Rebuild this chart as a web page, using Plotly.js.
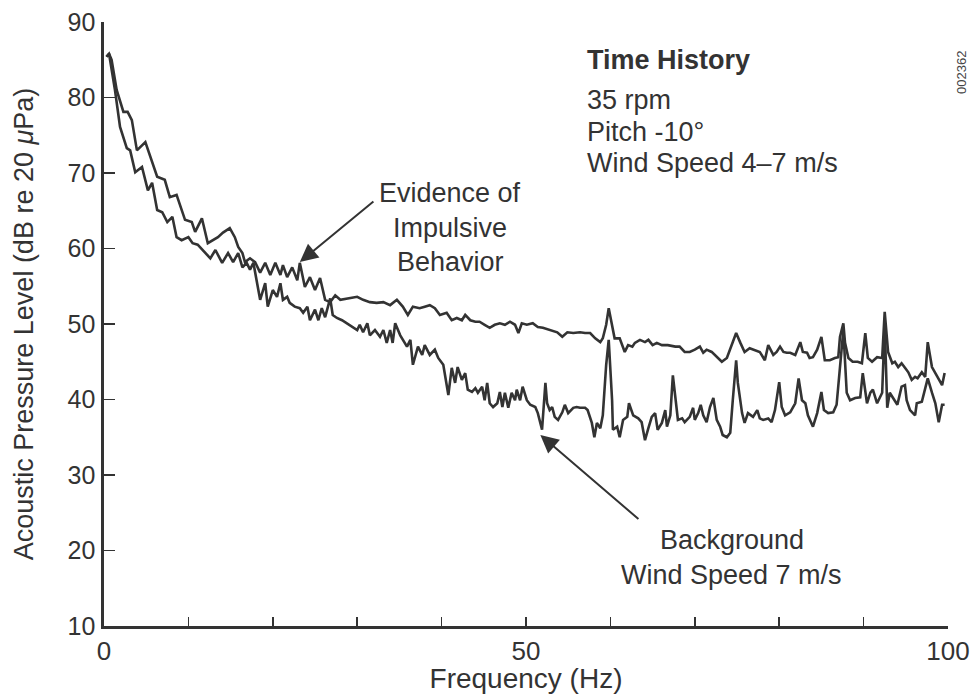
<!DOCTYPE html>
<html>
<head>
<meta charset="utf-8">
<script src="https://cdn.plot.ly/plotly-3.0.1.min.js"></script>
<style>html,body{margin:0;padding:0;background:#fff;}#chart{width:975px;height:694px;}</style>
</head>
<body>
<div id="chart"></div>
<script>
// Time History (upper curve at high frequencies)
const freqTH = [0.3,0.6,0.9,1.5,2.3,2.8,3.3,3.9,4.9,5.5,6.3,7.2,7.8,8.6,9.6,10.4,10.8,11.6,12.3,13.5,14.1,14.9,15.5,15.9,16.4,16.7,17.3,17.9,18.5,19.1,19.7,20.3,20.9,21.2,21.7,22.3,22.9,23.2,23.8,24.4,25.0,25.6,26.2,26.8,27.4,28.0,28.8,30.0,30.7,31.5,32.3,33.1,33.9,34.7,35.4,36.0,36.6,37.4,38.0,38.6,39.2,39.8,40.6,41.2,41.8,42.4,42.8,43.4,44.0,44.5,45.1,45.7,46.3,46.9,47.5,48.1,48.7,49.1,49.5,50.1,50.8,51.4,52.0,52.8,53.7,54.3,54.9,55.6,56.4,57.0,57.6,58.2,58.8,59.1,59.5,59.8,60.2,60.5,61.1,61.7,62.1,62.6,62.9,63.5,64.1,64.5,65.0,65.5,66.1,66.8,67.7,68.2,68.8,69.4,70.0,70.6,71.0,71.4,72.0,72.6,73.2,73.8,74.4,74.9,75.4,75.9,76.5,77.1,77.7,78.3,78.7,79.3,79.7,80.1,80.5,80.9,81.3,81.9,82.5,82.8,83.3,83.6,84.0,84.5,85.0,85.4,86.0,86.6,87.0,87.2,87.6,87.8,88.2,88.7,89.3,89.8,90.2,90.5,91.0,91.6,92.2,92.5,92.9,93.4,93.7,94.1,94.5,94.9,95.3,95.7,96.1,96.4,96.9,97.3,97.6,98.1,98.5,98.8,99.3,99.6];
const splTH = [85.4,85.8,85.0,81.0,78.1,78.1,77.0,73.0,74.1,72.0,69.5,69.1,66.8,67.1,63.8,63.5,62.2,64.0,60.7,61.5,62.1,62.7,61.5,60.2,59.4,58.2,58.7,58.2,56.8,58.1,56.5,58.1,56.5,57.8,56.2,57.5,55.8,58.1,54.9,56.2,54.5,56.1,53.2,52.9,53.8,53.2,53.4,53.6,53.2,52.9,52.8,52.9,52.5,53.2,52.3,51.2,52.3,52.1,52.3,52.5,52.1,51.2,51.5,50.5,50.8,50.5,51.2,50.5,50.3,50.3,49.9,49.5,49.9,50.1,49.9,50.3,49.9,48.8,50.1,49.9,50.1,49.6,49.5,49.2,48.9,48.3,48.9,48.8,48.9,48.8,48.8,48.1,47.6,48.1,49.9,52.1,49.9,48.1,48.1,46.3,47.2,47.0,47.5,47.9,47.6,47.9,47.2,47.5,47.2,47.2,47.0,47.0,46.3,46.3,46.6,47.0,46.2,46.6,46.3,45.6,45.0,45.5,47.2,48.8,47.5,46.3,46.8,46.6,46.3,45.2,47.2,45.9,46.3,47.0,46.3,46.2,46.2,45.9,47.6,46.3,46.2,45.5,45.6,46.6,48.3,45.2,45.2,45.5,45.6,48.3,50.1,47.5,45.5,45.0,45.0,44.8,48.8,45.5,45.0,45.6,45.5,51.6,46.3,44.8,45.0,44.3,44.8,44.2,43.6,42.6,43.0,42.8,43.6,43.0,47.6,44.3,43.5,43.0,41.9,43.5];

// Background, wind speed 7 m/s (lower curve at high frequencies)
const freqBG = [0.3,0.6,1.3,1.9,2.7,3.1,3.7,4.5,5.2,5.7,6.3,6.9,7.5,8.1,8.6,9.2,10.0,10.5,11.1,12.0,12.6,13.2,14.0,14.7,15.3,15.9,16.4,16.9,17.3,17.7,18.5,19.1,19.4,20.0,20.5,20.9,21.2,21.7,22.0,22.6,23.2,23.6,24.1,24.4,25.0,25.4,25.8,26.2,26.8,27.1,27.6,28.2,28.8,29.1,29.5,30.0,30.3,30.7,31.2,31.5,32.1,32.7,33.1,33.5,33.9,34.2,34.5,35.1,35.9,36.3,36.6,37.2,37.7,38.0,38.6,39.2,39.6,40.2,40.8,41.2,41.6,41.9,42.4,42.8,43.1,43.6,44.0,44.3,44.8,45.1,45.4,45.7,46.1,46.6,46.9,47.2,47.5,47.9,48.3,48.7,48.9,49.3,49.6,50.1,50.5,51.1,51.4,51.9,52.3,52.5,52.8,53.1,53.4,53.8,54.3,54.6,55.0,55.6,56.0,56.4,57.0,57.3,57.8,58.1,58.4,58.8,59.1,59.5,59.8,60.2,60.3,60.8,61.1,61.5,62.0,62.2,62.7,63.3,63.7,64.1,64.5,64.9,65.3,65.6,66.1,66.5,66.7,67.1,67.4,67.7,68.0,68.5,68.8,69.4,69.8,70.0,70.4,70.7,71.0,71.4,71.8,72.2,72.6,73.0,73.3,73.8,74.2,74.5,74.9,75.1,75.6,75.9,76.3,76.9,77.4,77.7,78.1,78.7,79.1,79.5,80.0,80.3,80.7,81.3,81.9,82.3,82.7,83.1,83.4,84.0,84.5,85.0,85.3,85.8,86.4,86.8,87.2,87.6,88.0,88.4,89.0,89.6,89.9,90.4,90.8,91.1,91.6,91.9,92.2,92.5,92.8,93.1,93.5,94.0,94.5,94.9,95.1,95.5,96.1,96.3,96.9,97.3,97.6,98.1,98.5,98.9,99.3,99.6];
const splBG = [85.4,85.8,81.0,76.1,73.3,73.0,70.1,70.8,67.7,68.7,65.1,64.8,63.5,64.2,61.5,61.1,61.5,60.7,60.5,59.4,58.7,59.8,58.1,59.4,58.2,59.4,57.5,58.1,57.2,58.1,53.2,55.4,52.3,54.5,53.6,55.4,53.2,53.6,52.8,52.3,52.1,51.5,52.3,50.5,51.9,50.5,52.1,50.9,53.4,51.2,50.8,50.5,50.1,49.9,49.6,49.2,49.9,48.9,50.1,48.5,49.2,48.3,49.2,47.5,49.2,47.5,50.1,48.5,47.0,47.9,44.6,47.0,45.9,47.2,45.9,46.6,45.5,44.6,40.6,44.2,42.2,44.3,42.6,43.5,41.3,41.0,41.5,40.9,41.7,39.9,42.2,39.5,39.0,39.5,41.0,39.0,40.9,38.9,40.9,39.9,41.3,39.9,41.7,39.9,39.3,39.0,38.2,36.0,42.2,39.5,38.6,39.0,37.7,37.3,38.3,39.3,38.2,38.9,39.0,38.9,38.9,38.6,36.9,35.0,36.9,36.2,37.9,44.6,47.9,39.9,36.0,36.4,35.0,37.3,37.7,39.5,37.9,37.5,37.0,34.6,36.2,37.7,38.2,36.0,36.9,38.6,36.4,37.9,43.2,39.9,37.3,37.5,37.0,37.7,38.9,37.3,38.2,39.3,37.9,37.0,39.0,40.2,37.3,36.4,35.3,35.0,35.6,39.9,45.2,42.2,38.2,36.9,38.2,37.7,38.6,37.5,37.3,37.5,37.0,38.6,42.3,39.0,37.9,38.3,39.5,42.8,39.9,39.5,37.9,36.4,38.2,41.0,38.6,38.2,38.3,39.3,43.9,49.2,40.9,39.9,40.2,40.3,43.5,39.5,40.9,41.3,39.5,40.3,40.9,49.9,38.9,40.9,40.2,39.3,41.7,41.9,39.9,38.6,37.9,39.5,39.7,41.5,42.8,40.9,39.5,37.0,39.3,39.3];

// Axis ticks
const xTickVals = [0,10,20,30,40,50,60,70,80,90,100];
const xTickText = ['0','','','','','50','','','','','100'];
const yTickVals = [10,20,30,40,50,60,70,80,90];
const yTickText = ['10','20','30','40','50','60','70','80','90'];

// Texts
const infoLines = ['<b>Time History</b>','35 rpm','Pitch -10°','Wind Speed 4–7 m/s'];
const evidenceLines = ['Evidence of','Impulsive','Behavior'];
const backgroundLines = ['Background','Wind Speed 7 m/s'];

const ink = '#333333';
const fontFam = '"Liberation Sans", Arial, Helvetica, sans-serif';
const txtSize = 27;

const traces = [
  {x: freqTH, y: splTH, mode: 'lines', name: 'Time History', line: {color: ink, width: 2.6}, hoverinfo: 'skip'},
  {x: freqBG, y: splBG, mode: 'lines', name: 'Background', line: {color: ink, width: 2.6}, hoverinfo: 'skip'}
];

const ann = [];
const infoY = [85.0, 79.7, 75.4, 71.3];
infoLines.forEach((t, i) => ann.push({x: 57.0, y: infoY[i], xref: 'x', yref: 'y', text: t, showarrow: false, xanchor: 'left', yanchor: 'middle', font: {size: txtSize, color: ink, family: fontFam}}));
const evY = [67.35, 62.7, 58.2];
evidenceLines.forEach((t, i) => ann.push({x: 41.0, y: evY[i], xref: 'x', yref: 'y', text: t, showarrow: false, xanchor: 'center', yanchor: 'middle', font: {size: txtSize, color: ink, family: fontFam}}));
const bgY = [21.4, 16.75];
backgroundLines.forEach((t, i) => ann.push({x: 74.4, y: bgY[i], xref: 'x', yref: 'y', text: t, showarrow: false, xanchor: 'center', yanchor: 'middle', font: {size: txtSize, color: ink, family: fontFam}}));
// Arrows
ann.push({x: 23.2, y: 58.2, xref: 'x', yref: 'y', ax: 32.1, ay: 66.4, axref: 'x', ayref: 'y', text: '', showarrow: true, arrowhead: 2, arrowsize: 1.8, arrowwidth: 2, arrowcolor: ink, standoff: 0});
ann.push({x: 51.7, y: 35.3, xref: 'x', yref: 'y', ax: 63.5, ay: 24.0, axref: 'x', ayref: 'y', text: '', showarrow: true, arrowhead: 2, arrowsize: 1.8, arrowwidth: 2, arrowcolor: ink, standoff: 0});
// Figure id
ann.push({x: 1.027, y: 0.955, xref: 'paper', yref: 'paper', text: '002362', textangle: -90, showarrow: false, font: {size: 13, color: '#444', family: fontFam}});

const layout = {
  width: 975, height: 694,
  margin: {l: 104, r: 27, t: 22, b: 68},
  paper_bgcolor: '#ffffff', plot_bgcolor: '#ffffff',
  showlegend: false,
  font: {family: fontFam, color: ink, size: 25},
  xaxis: {
    range: [0, 100], showgrid: false, zeroline: false,
    showline: true, linecolor: ink, linewidth: 2.6,
    ticks: 'inside', ticklen: 9, tickwidth: 1.5, tickcolor: ink,
    tickvals: xTickVals, ticktext: xTickText,
    tickfont: {size: 26, color: ink},
    title: {text: 'Frequency (Hz)', font: {size: 28, color: ink}, standoff: 4},
    automargin: false
  },
  yaxis: {
    range: [10, 90], showgrid: false, zeroline: false,
    showline: true, linecolor: ink, linewidth: 2.6,
    ticks: 'inside', ticklen: 11, tickwidth: 1.5, tickcolor: ink,
    tickvals: yTickVals, ticktext: yTickText,
    tickfont: {size: 25, color: ink},
    ticklabelstandoff: 1,
    title: {text: 'Acoustic Pressure Level (dB re 20 <i>μ</i>Pa)', font: {size: 27, color: ink}, standoff: 26},
    automargin: false
  },
  annotations: ann
};

Plotly.newPlot('chart', traces, layout, {staticPlot: true, displayModeBar: false});
</script>
</body>
</html>
